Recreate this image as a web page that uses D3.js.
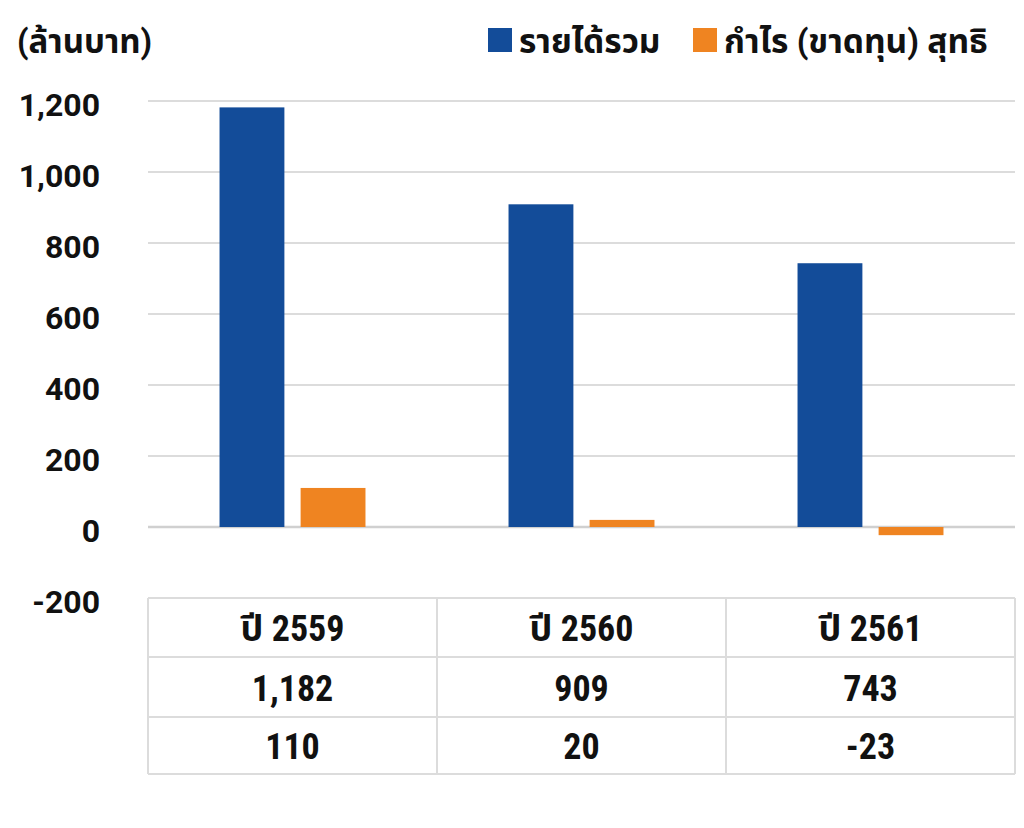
<!DOCTYPE html>
<html><head><meta charset="utf-8">
<script src="https://cdn.jsdelivr.net/npm/d3@7"></script>
<style>
body{margin:0;background:#fff;}
text{font-family:Roboto,"Noto Sans","Noto Sans Thai",sans-serif;font-weight:700;fill:#111;}
.tbl{font-family:"Liberation Sans Narrow","Roboto Condensed",Roboto,"Noto Sans Thai",sans-serif;}
</style></head>
<body><svg id="c" width="1024" height="828"></svg>
<script>
const categories = ["ปี 2559", "ปี 2560", "ปี 2561"];
const seriesNames = ["รายได้รวม", "กำไร (ขาดทุน) สุทธิ"];
const revenue = [1182, 909, 743];
const profit = [110, 20, -23];
const revenueLabels = ["1,182", "909", "743"];
const profitLabels = ["110", "20", "-23"];
const yTicks = [-200, 0, 200, 400, 600, 800, 1000, 1200];
const unitLabel = "(ล้านบาท)";
const colors = ["#134c99", "#ef8421"];

(function(){
const svg = d3.select("#c");
const mLeft = 148, mRight = 1015, mTop = 101, mBottom = 598;
const x = d3.scaleBand().domain(categories).range([mLeft, mRight]).paddingInner(0.495).paddingOuter(0.2475);
const xs = d3.scaleBand().domain([0, 1]).range([0, x.bandwidth()]).paddingInner(0.2);
const y = d3.scaleLinear().domain([-200, 1200]).range([mBottom, mTop]);
const xcol = d3.scaleBand().domain(categories).range([mLeft, mRight]);

svg.append("g").selectAll("line").data(yTicks.filter(d => d >= 0)).join("line")
  .attr("x1", mLeft).attr("x2", mRight)
  .attr("y1", d => y(d)).attr("y2", d => y(d))
  .attr("stroke", d => d === 0 ? "#d0d0d0" : "#dcdcdc")
  .attr("stroke-width", d => d === 0 ? 2.5 : 2);

const fmt = d3.format(",");
const yAxis = d3.axisLeft(y).tickValues(yTicks).tickSize(0).tickPadding(0)
  .tickFormat(d => fmt(d).replace("\u2212", "-"));
const ya = svg.append("g").attr("transform", "translate(100,0)").call(yAxis);
ya.select(".domain").remove();
ya.selectAll("text").attr("font-size", 32).attr("font-family", "Roboto,sans-serif").attr("font-weight", 700).attr("fill", "#111").attr("dy", "0.44em");

const series = [revenue, profit];
series.forEach((vals, si) => {
  svg.append("g").selectAll("rect").data(vals).join("rect")
    .attr("x", (d, i) => x(categories[i]) + xs(si))
    .attr("width", xs.bandwidth())
    .attr("y", d => y(Math.max(0, d)))
    .attr("height", d => Math.abs(y(d) - y(0)))
    .attr("fill", colors[si]);
});

svg.append("text").attr("x", 17).attr("y", 53).attr("font-size", 33).text(unitLabel);

const legX = [488, 693];
seriesNames.forEach((n, i) => {
  svg.append("rect").attr("x", legX[i]).attr("y", 28).attr("width", 24).attr("height", 24).attr("fill", colors[i]);
  svg.append("text").attr("x", legX[i] + 31).attr("y", 53).attr("font-size", 33.5).text(n);
});

const rowsY = [598, 657, 717, 774];
const g = svg.append("g");
rowsY.forEach(ry => g.append("line").attr("x1", mLeft).attr("x2", mRight).attr("y1", ry).attr("y2", ry).attr("stroke", "#dcdcdc").attr("stroke-width", 2));
[mLeft, ...categories.map(c => xcol(c) + xcol.bandwidth())].forEach(cx =>
  g.append("line").attr("x1", cx).attr("x2", cx).attr("y1", rowsY[0]).attr("y2", rowsY[3]).attr("stroke", "#dcdcdc").attr("stroke-width", 2));
const rowsText = [categories, revenueLabels, profitLabels];
rowsText.forEach((row, ri) => {
  g.selectAll(null).data(row).join("text").attr("class", "tbl")
    .attr("x", (d, i) => xcol(categories[i]) + xcol.bandwidth() / 2)
    .attr("y", (rowsY[ri] + rowsY[ri + 1]) / 2 + 1)
    .attr("dy", "0.36em").attr("text-anchor", "middle").attr("font-size", 36)
    .text(d => d);
});
})();
</script></body></html>
